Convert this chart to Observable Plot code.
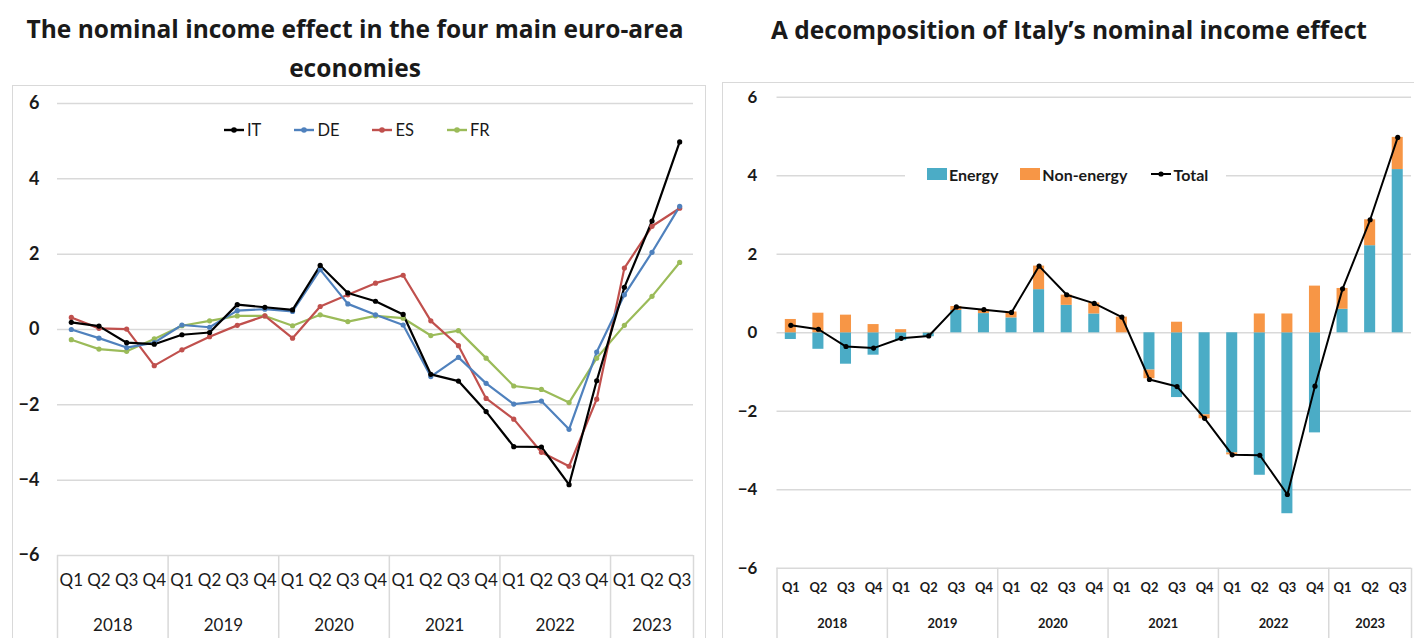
<!DOCTYPE html>
<html>
<head>
<meta charset="utf-8">
<script src="https://cdn.jsdelivr.net/npm/d3@7"></script>
<script src="https://cdn.jsdelivr.net/npm/@observablehq/plot@0.6"></script>
<style>
  html, body { margin: 0; padding: 0; background: #fff; overflow: hidden; }
  #wrap { position: relative; width: 1414px; height: 638px; overflow: hidden; font-family: Lato, "Open Sans", sans-serif; color: #1a1a1a; }
  .title { position: absolute; font-family: "Open Sans", Lato, sans-serif; font-weight: 700; font-size: 24.5px; text-align: center; line-height: 39px; white-space: nowrap; }
  .panel { position: absolute; border: 1.5px solid #d9d9d9; box-sizing: border-box; }
  .chart { position: absolute; }
  .legend { position: absolute; display: flex; align-items: center; background: #fff; }
  .legend .item { display: flex; align-items: center; }
  .legend svg { display: block; }
</style>
</head>
<body>
<div id="wrap">
  <div class="panel" style="left:12px;top:85px;width:694px;height:600px;"></div>
  <div class="panel" style="left:722px;top:82px;width:720px;height:600px;"></div>
  <div class="title" style="left:0px;top:9px;width:710px;">The nominal income effect in the four main euro-area<br>economies</div>
  <div class="title" style="left:730px;top:10px;width:678px;">A decomposition of Italy’s nominal income effect</div>
  <div class="chart" id="left" style="left:0px;top:80px;"></div>
  <div class="chart" id="right" style="left:722px;top:80px;"></div>
  <div class="legend" id="legLeft" style="left:223px;top:120px;gap:32px;font-size:16.5px;"></div>
  <div class="legend" id="legRight" style="left:905px;top:162px;height:24px;padding:0 18px 0 22px;gap:22px;font-size:16px;font-weight:700;"></div>
</div>
<script>
// ---------- data ----------
const years = ["2018", "2019", "2020", "2021", "2022", "2023"];
const quarters = ["Q1", "Q2", "Q3", "Q4"];
const periods = years.flatMap(y => quarters.map(q => y + " " + q)).slice(0, 23);

const yTicks = [-6, -4, -2, 0, 2, 4, 6];

const countryNames = ["IT", "DE", "ES", "FR"];
const countryColors = ["#000000", "#4f81bd", "#c0504d", "#9bbb59"];

const IT = [0.19, 0.09, -0.35, -0.39, -0.14, -0.08, 0.66, 0.59, 0.52, 1.70, 0.97, 0.75, 0.40, -1.19, -1.37, -2.18, -3.11, -3.12, -4.12, -1.36, 1.12, 2.88, 4.98];
const DE = [0.00, -0.23, -0.48, -0.35, 0.12, 0.06, 0.50, 0.54, 0.48, 1.59, 0.68, 0.39, 0.12, -1.25, -0.74, -1.43, -1.98, -1.90, -2.65, -0.60, 0.92, 2.05, 3.27];
const ES = [0.32, 0.03, 0.01, -0.96, -0.54, -0.19, 0.11, 0.36, -0.23, 0.61, 0.92, 1.23, 1.44, 0.23, -0.43, -1.83, -2.38, -3.26, -3.63, -1.85, 1.63, 2.74, 3.22];
const FR = [-0.27, -0.52, -0.58, -0.25, 0.10, 0.23, 0.36, 0.36, 0.10, 0.39, 0.21, 0.36, 0.30, -0.16, -0.03, -0.76, -1.50, -1.59, -1.94, -0.76, 0.11, 0.88, 1.78];

const componentNames = ["Energy", "Non-energy"];
const componentColors = ["#4bacc6", "#f79646"];
const energy = [-0.17, -0.42, -0.80, -0.57, -0.20, -0.10, 0.57, 0.49, 0.38, 1.10, 0.70, 0.48, 0.00, -0.95, -1.65, -2.09, -3.06, -3.63, -4.61, -2.55, 0.60, 2.22, 4.16];
const nonEnergy = [0.34, 0.50, 0.45, 0.21, 0.08, 0.01, 0.10, 0.10, 0.15, 0.60, 0.26, 0.28, 0.40, -0.22, 0.27, -0.10, -0.05, 0.48, 0.48, 1.19, 0.53, 0.66, 0.82];
const totalName = "Total";

// ---------- helpers ----------
const gridColor = "#d9d9d9";
const textColor = "#1a1a1a";
const font = "Lato, 'Open Sans', sans-serif";

function yearInfo() {
  return years.map(y => {
    const qs = periods.filter(p => p.startsWith(y));
    return {year: y, n: qs.length, mid: qs[Math.floor((qs.length - 1) / 2)]};
  });
}

function categoryAxis(step, frameH, bottomH, qDy, yDy, qSize, ySize, weight) {
  const info = yearInfo();
  const ruleOpts = {stroke: gridColor, strokeWidth: 1.5, insetTop: frameH, insetBottom: -bottomH};
  return [
    Plot.ruleX(years.map(y => y + " Q1"), {...ruleOpts, dx: -step / 2}),
    Plot.ruleX([periods[periods.length - 1]], {...ruleOpts, dx: step / 2}),
    Plot.text(periods, {x: d => d, text: d => d.split(" ")[1], frameAnchor: "bottom", dy: qDy, fontSize: qSize, fontWeight: weight, fill: textColor}),
    Plot.text(info.filter(d => d.n % 2 === 0), {x: "mid", text: "year", frameAnchor: "bottom", dy: yDy, dx: step / 2, fontSize: ySize, fontWeight: weight, fill: textColor}),
    Plot.text(info.filter(d => d.n % 2 === 1), {x: "mid", text: "year", frameAnchor: "bottom", dy: yDy, fontSize: ySize, fontWeight: weight, fill: textColor})
  ];
}

// ---------- left chart ----------
{
  const width = 707, height = 558, mL = 57, mR = 14, mT = 23, mB = 83;
  const step = (width - mL - mR) / periods.length;
  const series = [IT, DE, ES, FR];
  const long = countryNames.flatMap((name, k) => periods.map((p, i) => ({name, period: p, value: series[k][i]}))).reverse();
  const chart = Plot.plot({
    width, height, marginLeft: mL, marginRight: mR, marginTop: mT, marginBottom: mB,
    style: {fontFamily: font, background: "transparent", overflow: "visible"},
    x: {type: "band", domain: periods, padding: 0, round: false, axis: null},
    y: {domain: [-6, 6], axis: null},
    color: {domain: countryNames, range: countryColors},
    marks: [
      Plot.gridY(yTicks, {stroke: gridColor, strokeOpacity: 1, strokeWidth: 1.5}),
      Plot.axisY(yTicks, {tickSize: 0, tickPadding: 18, fontSize: 18, fontWeight: "bold", fill: textColor, label: null}),
      ...categoryAxis(step, height - mT - mB, 90, 30, 75, 17, 17, "normal"),
      Plot.line(long, {x: "period", y: "value", z: "name", stroke: "name", strokeWidth: 2.2}),
      Plot.dot(long, {x: "period", y: "value", fill: "name", r: 2.6})
    ]
  });
  document.getElementById("left").appendChild(chart);

  const leg = document.getElementById("legLeft");
  countryNames.forEach((n, k) => {
    const it = document.createElement("div");
    it.className = "item";
    it.innerHTML = `<svg width="22" height="12"><line x1="1" x2="21" y1="6" y2="6" stroke="${countryColors[k]}" stroke-width="2.4"/><circle cx="11" cy="6" r="2.8" fill="${countryColors[k]}"/></svg><span style="margin-left:2px">${n}</span>`;
    leg.appendChild(it);
  });
}

// ---------- right chart ----------
{
  const width = 698, height = 558, mL = 55, mR = 3, mT = 17, mB = 66;
  const step = (width - mL - mR) / periods.length;
  const stacked = [
    ...periods.map((p, i) => ({period: p, component: componentNames[0], value: energy[i]})),
    ...periods.map((p, i) => ({period: p, component: componentNames[1], value: nonEnergy[i]}))
  ];
  const total = periods.map((p, i) => ({period: p, value: IT[i]}));
  const chart = Plot.plot({
    width, height, marginLeft: mL, marginRight: mR, marginTop: mT, marginBottom: mB,
    style: {fontFamily: font, background: "transparent", overflow: "visible"},
    x: {type: "band", domain: periods, paddingInner: 0.6, paddingOuter: 0.3, round: false, axis: null},
    y: {domain: [-6, 6], axis: null},
    color: {domain: componentNames, range: componentColors},
    marks: [
      Plot.gridY(yTicks, {stroke: gridColor, strokeOpacity: 1, strokeWidth: 1.5}),
      Plot.axisY(yTicks, {tickSize: 0, tickPadding: 20, fontSize: 17, fontWeight: "bold", fill: textColor, label: null}),
      ...categoryAxis(step, height - mT - mB, 90, 24, 60, 13, 13, "bold"),
      Plot.barY(stacked, {x: "period", y: "value", fill: "component"}),
      Plot.line(total, {x: "period", y: "value", stroke: "#000", strokeWidth: 2}),
      Plot.dot(total, {x: "period", y: "value", fill: "#000", r: 2.6})
    ]
  });
  document.getElementById("right").appendChild(chart);

  const leg = document.getElementById("legRight");
  componentNames.forEach((n, k) => {
    const it = document.createElement("div");
    it.className = "item";
    it.innerHTML = `<svg width="20" height="12"><rect x="0" y="0" width="20" height="12" fill="${componentColors[k]}"/></svg><span style="margin-left:2px">${n}</span>`;
    leg.appendChild(it);
  });
  const it = document.createElement("div");
  it.className = "item";
  it.innerHTML = `<svg width="22" height="12"><line x1="1" x2="21" y1="6" y2="6" stroke="#000" stroke-width="2"/><circle cx="11" cy="6" r="2.6" fill="#000"/></svg><span style="margin-left:2px">${totalName}</span>`;
  leg.appendChild(it);
}
</script>
</body>
</html>
